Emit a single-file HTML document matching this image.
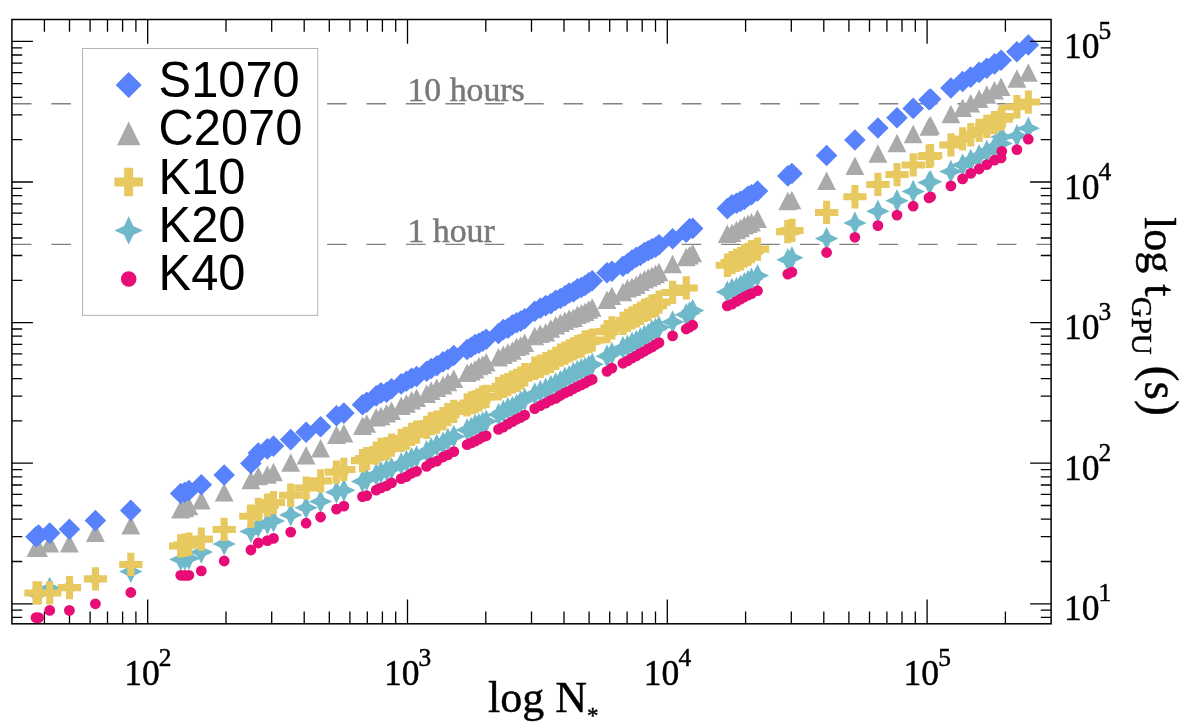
<!DOCTYPE html>
<html><head><meta charset="utf-8"><title>GPU timing</title>
<style>html,body{margin:0;padding:0;background:#fff}svg{display:block;will-change:transform}text{font-family:'Liberation Serif',serif;fill:#000;stroke:#000;stroke-width:.45px;stroke-linejoin:round}.s{font-family:'Liberation Sans',sans-serif;stroke:none}</style></head>
<body>
<svg width="1181" height="726" viewBox="0 0 1181 726">
<rect width="1181" height="726" fill="#fff"/>
<path d="M44.4 19.5v12.2 M44.4 623.8v-12.2 M69.5 19.5v12.2 M69.5 623.8v-12.2 M90.1 19.5v12.2 M90.1 623.8v-12.2 M107.5 19.5v12.2 M107.5 623.8v-12.2 M122.6 19.5v12.2 M122.6 623.8v-12.2 M135.9 19.5v12.2 M135.9 623.8v-12.2 M226 19.5v12.2 M226 623.8v-12.2 M271.7 19.5v12.2 M271.7 623.8v-12.2 M304.2 19.5v12.2 M304.2 623.8v-12.2 M329.3 19.5v12.2 M329.3 623.8v-12.2 M349.9 19.5v12.2 M349.9 623.8v-12.2 M367.3 19.5v12.2 M367.3 623.8v-12.2 M382.4 19.5v12.2 M382.4 623.8v-12.2 M395.7 19.5v12.2 M395.7 623.8v-12.2 M485.8 19.5v12.2 M485.8 623.8v-12.2 M531.5 19.5v12.2 M531.5 623.8v-12.2 M564 19.5v12.2 M564 623.8v-12.2 M589.1 19.5v12.2 M589.1 623.8v-12.2 M609.7 19.5v12.2 M609.7 623.8v-12.2 M627.1 19.5v12.2 M627.1 623.8v-12.2 M642.2 19.5v12.2 M642.2 623.8v-12.2 M655.5 19.5v12.2 M655.5 623.8v-12.2 M745.6 19.5v12.2 M745.6 623.8v-12.2 M791.3 19.5v12.2 M791.3 623.8v-12.2 M823.8 19.5v12.2 M823.8 623.8v-12.2 M848.9 19.5v12.2 M848.9 623.8v-12.2 M869.5 19.5v12.2 M869.5 623.8v-12.2 M886.9 19.5v12.2 M886.9 623.8v-12.2 M902 19.5v12.2 M902 623.8v-12.2 M915.3 19.5v12.2 M915.3 623.8v-12.2 M1005.4 19.5v12.2 M1005.4 623.8v-12.2 M11.9 617.4h10.3 M11.9 610.2h10.3 M11.9 561.5h10.3 M11.9 536.7h10.3 M11.9 519.2h10.3 M11.9 505.5h10.3 M11.9 494.4h10.3 M11.9 485h10.3 M11.9 476.8h10.3 M11.9 469.6h10.3 M11.9 420.9h10.3 M11.9 396.1h10.3 M11.9 378.6h10.3 M11.9 364.9h10.3 M11.9 353.8h10.3 M11.9 344.4h10.3 M11.9 336.2h10.3 M11.9 329h10.3 M11.9 280.3h10.3 M11.9 255.5h10.3 M11.9 238h10.3 M11.9 224.3h10.3 M11.9 213.2h10.3 M11.9 203.8h10.3 M11.9 195.6h10.3 M11.9 188.4h10.3 M11.9 139.7h10.3 M11.9 114.9h10.3 M11.9 97.4h10.3 M11.9 83.7h10.3 M11.9 72.6h10.3 M11.9 63.2h10.3 M11.9 55h10.3 M11.9 47.8h10.3 M147.7 19.5v24.2 M147.7 623.8v-24.2 M407.5 19.5v24.2 M407.5 623.8v-24.2 M667.3 19.5v24.2 M667.3 623.8v-24.2 M927.1 19.5v24.2 M927.1 623.8v-24.2 M11.9 603.8h21 M11.9 463.2h21 M11.9 322.6h21 M11.9 182h21 M11.9 41.4h21" stroke="#000" stroke-width="1.3" fill="none"/>
<path d="M11.9 103.8H1051.1" stroke="#828282" stroke-width="1.4" stroke-dasharray="19.6 19.8" fill="none"/>
<path d="M11.9 244.4H1051.1" stroke="#828282" stroke-width="1.4" stroke-dasharray="19.6 19.8" fill="none"/>
<text x="407.4" y="100.9" font-size="33.8" style="fill:#787878;stroke:#787878;stroke-width:.5px">10 hours</text>
<text x="407.4" y="241.5" font-size="33.8" style="fill:#787878;stroke:#787878;stroke-width:.5px">1 hour</text>
<path d="M36 581.9l3.8 7.9 7.9 3.8 -7.9 3.8 -3.8 7.9 -3.8 -7.9 -7.9 -3.8 7.9 -3.8zM38.6 581.9l3.8 7.9 7.9 3.8 -7.9 3.8 -3.8 7.9 -3.8 -7.9 -7.9 -3.8 7.9 -3.8zM49.7 576.7l3.8 7.9 7.9 3.8 -7.9 3.8 -3.8 7.9 -3.8 -7.9 -7.9 -3.8 7.9 -3.8zM69.4 575.6l3.8 7.9 7.9 3.8 -7.9 3.8 -3.8 7.9 -3.8 -7.9 -7.9 -3.8 7.9 -3.8zM95.4 567.3l3.8 7.9 7.9 3.8 -7.9 3.8 -3.8 7.9 -3.8 -7.9 -7.9 -3.8 7.9 -3.8zM130.8 559.9l3.8 7.9 7.9 3.8 -7.9 3.8 -3.8 7.9 -3.8 -7.9 -7.9 -3.8 7.9 -3.8zM180.7 547.8l3.8 7.9 7.9 3.8 -7.9 3.8 -3.8 7.9 -3.8 -7.9 -7.9 -3.8 7.9 -3.8zM184.8 547.3l3.8 7.9 7.9 3.8 -7.9 3.8 -3.8 7.9 -3.8 -7.9 -7.9 -3.8 7.9 -3.8zM188.9 546.5l3.8 7.9 7.9 3.8 -7.9 3.8 -3.8 7.9 -3.8 -7.9 -7.9 -3.8 7.9 -3.8zM201.3 540.4l3.8 7.9 7.9 3.8 -7.9 3.8 -3.8 7.9 -3.8 -7.9 -7.9 -3.8 7.9 -3.8zM224.2 532.2l3.8 7.9 7.9 3.8 -7.9 3.8 -3.8 7.9 -3.8 -7.9 -7.9 -3.8 7.9 -3.8zM250.9 519.8l3.8 7.9 7.9 3.8 -7.9 3.8 -3.8 7.9 -3.8 -7.9 -7.9 -3.8 7.9 -3.8zM258.3 514.3l3.8 7.9 7.9 3.8 -7.9 3.8 -3.8 7.9 -3.8 -7.9 -7.9 -3.8 7.9 -3.8zM267.4 511.5l3.8 7.9 7.9 3.8 -7.9 3.8 -3.8 7.9 -3.8 -7.9 -7.9 -3.8 7.9 -3.8zM273.5 509.3l3.8 7.9 7.9 3.8 -7.9 3.8 -3.8 7.9 -3.8 -7.9 -7.9 -3.8 7.9 -3.8zM290.7 503.2l3.8 7.9 7.9 3.8 -7.9 3.8 -3.8 7.9 -3.8 -7.9 -7.9 -3.8 7.9 -3.8zM306.1 496l3.8 7.9 7.9 3.8 -7.9 3.8 -3.8 7.9 -3.8 -7.9 -7.9 -3.8 7.9 -3.8zM320.6 489.8l3.8 7.9 7.9 3.8 -7.9 3.8 -3.8 7.9 -3.8 -7.9 -7.9 -3.8 7.9 -3.8zM336.5 480.5l3.8 7.9 7.9 3.8 -7.9 3.8 -3.8 7.9 -3.8 -7.9 -7.9 -3.8 7.9 -3.8zM343.9 478.5l3.8 7.9 7.9 3.8 -7.9 3.8 -3.8 7.9 -3.8 -7.9 -7.9 -3.8 7.9 -3.8zM362.5 469.7l3.8 7.9 7.9 3.8 -7.9 3.8 -3.8 7.9 -3.8 -7.9 -7.9 -3.8 7.9 -3.8zM366.7 467.8l3.8 7.9 7.9 3.8 -7.9 3.8 -3.8 7.9 -3.8 -7.9 -7.9 -3.8 7.9 -3.8zM376.2 462.9l3.8 7.9 7.9 3.8 -7.9 3.8 -3.8 7.9 -3.8 -7.9 -7.9 -3.8 7.9 -3.8zM381 460.7l3.8 7.9 7.9 3.8 -7.9 3.8 -3.8 7.9 -3.8 -7.9 -7.9 -3.8 7.9 -3.8zM386.6 458.4l3.8 7.9 7.9 3.8 -7.9 3.8 -3.8 7.9 -3.8 -7.9 -7.9 -3.8 7.9 -3.8zM391.5 456.9l3.8 7.9 7.9 3.8 -7.9 3.8 -3.8 7.9 -3.8 -7.9 -7.9 -3.8 7.9 -3.8zM401.2 452.1l3.8 7.9 7.9 3.8 -7.9 3.8 -3.8 7.9 -3.8 -7.9 -7.9 -3.8 7.9 -3.8zM406.4 449.5l3.8 7.9 7.9 3.8 -7.9 3.8 -3.8 7.9 -3.8 -7.9 -7.9 -3.8 7.9 -3.8zM411.6 447l3.8 7.9 7.9 3.8 -7.9 3.8 -3.8 7.9 -3.8 -7.9 -7.9 -3.8 7.9 -3.8zM416.6 445.2l3.8 7.9 7.9 3.8 -7.9 3.8 -3.8 7.9 -3.8 -7.9 -7.9 -3.8 7.9 -3.8zM426.6 440.1l3.8 7.9 7.9 3.8 -7.9 3.8 -3.8 7.9 -3.8 -7.9 -7.9 -3.8 7.9 -3.8zM431.2 437.2l3.8 7.9 7.9 3.8 -7.9 3.8 -3.8 7.9 -3.8 -7.9 -7.9 -3.8 7.9 -3.8zM436.8 433.5l3.8 7.9 7.9 3.8 -7.9 3.8 -3.8 7.9 -3.8 -7.9 -7.9 -3.8 7.9 -3.8zM443 431.4l3.8 7.9 7.9 3.8 -7.9 3.8 -3.8 7.9 -3.8 -7.9 -7.9 -3.8 7.9 -3.8zM447.9 427.8l3.8 7.9 7.9 3.8 -7.9 3.8 -3.8 7.9 -3.8 -7.9 -7.9 -3.8 7.9 -3.8zM453.8 424.7l3.8 7.9 7.9 3.8 -7.9 3.8 -3.8 7.9 -3.8 -7.9 -7.9 -3.8 7.9 -3.8zM467.1 418.2l3.8 7.9 7.9 3.8 -7.9 3.8 -3.8 7.9 -3.8 -7.9 -7.9 -3.8 7.9 -3.8zM471.2 416.8l3.8 7.9 7.9 3.8 -7.9 3.8 -3.8 7.9 -3.8 -7.9 -7.9 -3.8 7.9 -3.8zM475.1 413.6l3.8 7.9 7.9 3.8 -7.9 3.8 -3.8 7.9 -3.8 -7.9 -7.9 -3.8 7.9 -3.8zM478.9 412.9l3.8 7.9 7.9 3.8 -7.9 3.8 -3.8 7.9 -3.8 -7.9 -7.9 -3.8 7.9 -3.8zM482.6 411.3l3.8 7.9 7.9 3.8 -7.9 3.8 -3.8 7.9 -3.8 -7.9 -7.9 -3.8 7.9 -3.8zM486.2 409.5l3.8 7.9 7.9 3.8 -7.9 3.8 -3.8 7.9 -3.8 -7.9 -7.9 -3.8 7.9 -3.8zM498.5 402.9l3.8 7.9 7.9 3.8 -7.9 3.8 -3.8 7.9 -3.8 -7.9 -7.9 -3.8 7.9 -3.8zM503.3 399.7l3.8 7.9 7.9 3.8 -7.9 3.8 -3.8 7.9 -3.8 -7.9 -7.9 -3.8 7.9 -3.8zM507.9 397.1l3.8 7.9 7.9 3.8 -7.9 3.8 -3.8 7.9 -3.8 -7.9 -7.9 -3.8 7.9 -3.8zM512.4 395.8l3.8 7.9 7.9 3.8 -7.9 3.8 -3.8 7.9 -3.8 -7.9 -7.9 -3.8 7.9 -3.8zM516.6 393.7l3.8 7.9 7.9 3.8 -7.9 3.8 -3.8 7.9 -3.8 -7.9 -7.9 -3.8 7.9 -3.8zM520.7 390.2l3.8 7.9 7.9 3.8 -7.9 3.8 -3.8 7.9 -3.8 -7.9 -7.9 -3.8 7.9 -3.8zM524.7 387.8l3.8 7.9 7.9 3.8 -7.9 3.8 -3.8 7.9 -3.8 -7.9 -7.9 -3.8 7.9 -3.8zM534.7 382.2l3.8 7.9 7.9 3.8 -7.9 3.8 -3.8 7.9 -3.8 -7.9 -7.9 -3.8 7.9 -3.8zM540.3 379.8l3.8 7.9 7.9 3.8 -7.9 3.8 -3.8 7.9 -3.8 -7.9 -7.9 -3.8 7.9 -3.8zM545.7 377.5l3.8 7.9 7.9 3.8 -7.9 3.8 -3.8 7.9 -3.8 -7.9 -7.9 -3.8 7.9 -3.8zM550.8 374.8l3.8 7.9 7.9 3.8 -7.9 3.8 -3.8 7.9 -3.8 -7.9 -7.9 -3.8 7.9 -3.8zM555.7 372.2l3.8 7.9 7.9 3.8 -7.9 3.8 -3.8 7.9 -3.8 -7.9 -7.9 -3.8 7.9 -3.8zM560.4 369.8l3.8 7.9 7.9 3.8 -7.9 3.8 -3.8 7.9 -3.8 -7.9 -7.9 -3.8 7.9 -3.8zM564.9 366.6l3.8 7.9 7.9 3.8 -7.9 3.8 -3.8 7.9 -3.8 -7.9 -7.9 -3.8 7.9 -3.8zM569.2 364.9l3.8 7.9 7.9 3.8 -7.9 3.8 -3.8 7.9 -3.8 -7.9 -7.9 -3.8 7.9 -3.8zM573.4 361.8l3.8 7.9 7.9 3.8 -7.9 3.8 -3.8 7.9 -3.8 -7.9 -7.9 -3.8 7.9 -3.8zM577.4 359.8l3.8 7.9 7.9 3.8 -7.9 3.8 -3.8 7.9 -3.8 -7.9 -7.9 -3.8 7.9 -3.8zM581.3 358l3.8 7.9 7.9 3.8 -7.9 3.8 -3.8 7.9 -3.8 -7.9 -7.9 -3.8 7.9 -3.8zM585 356.7l3.8 7.9 7.9 3.8 -7.9 3.8 -3.8 7.9 -3.8 -7.9 -7.9 -3.8 7.9 -3.8zM588.7 354.8l3.8 7.9 7.9 3.8 -7.9 3.8 -3.8 7.9 -3.8 -7.9 -7.9 -3.8 7.9 -3.8zM592.2 352.5l3.8 7.9 7.9 3.8 -7.9 3.8 -3.8 7.9 -3.8 -7.9 -7.9 -3.8 7.9 -3.8zM607 344.5l3.8 7.9 7.9 3.8 -7.9 3.8 -3.8 7.9 -3.8 -7.9 -7.9 -3.8 7.9 -3.8zM611.9 341.8l3.8 7.9 7.9 3.8 -7.9 3.8 -3.8 7.9 -3.8 -7.9 -7.9 -3.8 7.9 -3.8zM622.9 336l3.8 7.9 7.9 3.8 -7.9 3.8 -3.8 7.9 -3.8 -7.9 -7.9 -3.8 7.9 -3.8zM627.5 334.6l3.8 7.9 7.9 3.8 -7.9 3.8 -3.8 7.9 -3.8 -7.9 -7.9 -3.8 7.9 -3.8zM632 331.5l3.8 7.9 7.9 3.8 -7.9 3.8 -3.8 7.9 -3.8 -7.9 -7.9 -3.8 7.9 -3.8zM636.3 329.8l3.8 7.9 7.9 3.8 -7.9 3.8 -3.8 7.9 -3.8 -7.9 -7.9 -3.8 7.9 -3.8zM640.4 327.2l3.8 7.9 7.9 3.8 -7.9 3.8 -3.8 7.9 -3.8 -7.9 -7.9 -3.8 7.9 -3.8zM644.4 324.6l3.8 7.9 7.9 3.8 -7.9 3.8 -3.8 7.9 -3.8 -7.9 -7.9 -3.8 7.9 -3.8zM648.2 323l3.8 7.9 7.9 3.8 -7.9 3.8 -3.8 7.9 -3.8 -7.9 -7.9 -3.8 7.9 -3.8zM651.9 319.3l3.8 7.9 7.9 3.8 -7.9 3.8 -3.8 7.9 -3.8 -7.9 -7.9 -3.8 7.9 -3.8zM655.5 317.8l3.8 7.9 7.9 3.8 -7.9 3.8 -3.8 7.9 -3.8 -7.9 -7.9 -3.8 7.9 -3.8zM659 315.6l3.8 7.9 7.9 3.8 -7.9 3.8 -3.8 7.9 -3.8 -7.9 -7.9 -3.8 7.9 -3.8zM672.6 310.2l3.8 7.9 7.9 3.8 -7.9 3.8 -3.8 7.9 -3.8 -7.9 -7.9 -3.8 7.9 -3.8zM686.2 303.1l3.8 7.9 7.9 3.8 -7.9 3.8 -3.8 7.9 -3.8 -7.9 -7.9 -3.8 7.9 -3.8zM689.5 301.3l3.8 7.9 7.9 3.8 -7.9 3.8 -3.8 7.9 -3.8 -7.9 -7.9 -3.8 7.9 -3.8zM692.7 298.7l3.8 7.9 7.9 3.8 -7.9 3.8 -3.8 7.9 -3.8 -7.9 -7.9 -3.8 7.9 -3.8zM727.3 280.4l3.8 7.9 7.9 3.8 -7.9 3.8 -3.8 7.9 -3.8 -7.9 -7.9 -3.8 7.9 -3.8zM732 277.7l3.8 7.9 7.9 3.8 -7.9 3.8 -3.8 7.9 -3.8 -7.9 -7.9 -3.8 7.9 -3.8zM736.5 276.8l3.8 7.9 7.9 3.8 -7.9 3.8 -3.8 7.9 -3.8 -7.9 -7.9 -3.8 7.9 -3.8zM740.5 274.6l3.8 7.9 7.9 3.8 -7.9 3.8 -3.8 7.9 -3.8 -7.9 -7.9 -3.8 7.9 -3.8zM744.3 271.9l3.8 7.9 7.9 3.8 -7.9 3.8 -3.8 7.9 -3.8 -7.9 -7.9 -3.8 7.9 -3.8zM748 269.7l3.8 7.9 7.9 3.8 -7.9 3.8 -3.8 7.9 -3.8 -7.9 -7.9 -3.8 7.9 -3.8zM751.5 267.5l3.8 7.9 7.9 3.8 -7.9 3.8 -3.8 7.9 -3.8 -7.9 -7.9 -3.8 7.9 -3.8zM757.5 263.9l3.8 7.9 7.9 3.8 -7.9 3.8 -3.8 7.9 -3.8 -7.9 -7.9 -3.8 7.9 -3.8zM787.8 248.1l3.8 7.9 7.9 3.8 -7.9 3.8 -3.8 7.9 -3.8 -7.9 -7.9 -3.8 7.9 -3.8zM791.9 246l3.8 7.9 7.9 3.8 -7.9 3.8 -3.8 7.9 -3.8 -7.9 -7.9 -3.8 7.9 -3.8zM826.6 226.9l3.8 7.9 7.9 3.8 -7.9 3.8 -3.8 7.9 -3.8 -7.9 -7.9 -3.8 7.9 -3.8zM854.9 211.3l3.8 7.9 7.9 3.8 -7.9 3.8 -3.8 7.9 -3.8 -7.9 -7.9 -3.8 7.9 -3.8zM877.9 199.5l3.8 7.9 7.9 3.8 -7.9 3.8 -3.8 7.9 -3.8 -7.9 -7.9 -3.8 7.9 -3.8zM897 189l3.8 7.9 7.9 3.8 -7.9 3.8 -3.8 7.9 -3.8 -7.9 -7.9 -3.8 7.9 -3.8zM913.2 179.8l3.8 7.9 7.9 3.8 -7.9 3.8 -3.8 7.9 -3.8 -7.9 -7.9 -3.8 7.9 -3.8zM929 170.9l3.8 7.9 7.9 3.8 -7.9 3.8 -3.8 7.9 -3.8 -7.9 -7.9 -3.8 7.9 -3.8zM930.6 170.1l3.8 7.9 7.9 3.8 -7.9 3.8 -3.8 7.9 -3.8 -7.9 -7.9 -3.8 7.9 -3.8zM950.9 159.8l3.8 7.9 7.9 3.8 -7.9 3.8 -3.8 7.9 -3.8 -7.9 -7.9 -3.8 7.9 -3.8zM962.6 153.3l3.8 7.9 7.9 3.8 -7.9 3.8 -3.8 7.9 -3.8 -7.9 -7.9 -3.8 7.9 -3.8zM970.7 148.7l3.8 7.9 7.9 3.8 -7.9 3.8 -3.8 7.9 -3.8 -7.9 -7.9 -3.8 7.9 -3.8zM979.1 144l3.8 7.9 7.9 3.8 -7.9 3.8 -3.8 7.9 -3.8 -7.9 -7.9 -3.8 7.9 -3.8zM986.8 139.7l3.8 7.9 7.9 3.8 -7.9 3.8 -3.8 7.9 -3.8 -7.9 -7.9 -3.8 7.9 -3.8zM994.5 135.4l3.8 7.9 7.9 3.8 -7.9 3.8 -3.8 7.9 -3.8 -7.9 -7.9 -3.8 7.9 -3.8zM1001.1 131.7l3.8 7.9 7.9 3.8 -7.9 3.8 -3.8 7.9 -3.8 -7.9 -7.9 -3.8 7.9 -3.8zM1016.9 124l3.8 7.9 7.9 3.8 -7.9 3.8 -3.8 7.9 -3.8 -7.9 -7.9 -3.8 7.9 -3.8zM1028.3 116.6l3.8 7.9 7.9 3.8 -7.9 3.8 -3.8 7.9 -3.8 -7.9 -7.9 -3.8 7.9 -3.8zM1001.8 125.3l3.8 7.9 7.9 3.8 -7.9 3.8 -3.8 7.9 -3.8 -7.9 -7.9 -3.8 7.9 -3.8z" fill="#70b9cb"/>
<path d="M30.6 617.6a5.4 5.4 0 1 0 10.8 0a5.4 5.4 0 1 0 -10.8 0zM33.2 617.6a5.4 5.4 0 1 0 10.8 0a5.4 5.4 0 1 0 -10.8 0zM44.3 610.4a5.4 5.4 0 1 0 10.8 0a5.4 5.4 0 1 0 -10.8 0zM64 610.4a5.4 5.4 0 1 0 10.8 0a5.4 5.4 0 1 0 -10.8 0zM90 603.8a5.4 5.4 0 1 0 10.8 0a5.4 5.4 0 1 0 -10.8 0zM125.4 592.5a5.4 5.4 0 1 0 10.8 0a5.4 5.4 0 1 0 -10.8 0zM175.3 575.3a5.4 5.4 0 1 0 10.8 0a5.4 5.4 0 1 0 -10.8 0zM179.4 575.3a5.4 5.4 0 1 0 10.8 0a5.4 5.4 0 1 0 -10.8 0zM183.5 575.3a5.4 5.4 0 1 0 10.8 0a5.4 5.4 0 1 0 -10.8 0zM195.9 570.9a5.4 5.4 0 1 0 10.8 0a5.4 5.4 0 1 0 -10.8 0zM218.8 561a5.4 5.4 0 1 0 10.8 0a5.4 5.4 0 1 0 -10.8 0zM245.5 550a5.4 5.4 0 1 0 10.8 0a5.4 5.4 0 1 0 -10.8 0zM252.9 543a5.4 5.4 0 1 0 10.8 0a5.4 5.4 0 1 0 -10.8 0zM262 540.6a5.4 5.4 0 1 0 10.8 0a5.4 5.4 0 1 0 -10.8 0zM268.1 538.4a5.4 5.4 0 1 0 10.8 0a5.4 5.4 0 1 0 -10.8 0zM285.3 532.1a5.4 5.4 0 1 0 10.8 0a5.4 5.4 0 1 0 -10.8 0zM300.7 523.2a5.4 5.4 0 1 0 10.8 0a5.4 5.4 0 1 0 -10.8 0zM315.2 517a5.4 5.4 0 1 0 10.8 0a5.4 5.4 0 1 0 -10.8 0zM331.1 509.2a5.4 5.4 0 1 0 10.8 0a5.4 5.4 0 1 0 -10.8 0zM338.5 506.1a5.4 5.4 0 1 0 10.8 0a5.4 5.4 0 1 0 -10.8 0zM357.1 496.6a5.4 5.4 0 1 0 10.8 0a5.4 5.4 0 1 0 -10.8 0zM361.3 495.6a5.4 5.4 0 1 0 10.8 0a5.4 5.4 0 1 0 -10.8 0zM370.8 490.1a5.4 5.4 0 1 0 10.8 0a5.4 5.4 0 1 0 -10.8 0zM375.6 487.9a5.4 5.4 0 1 0 10.8 0a5.4 5.4 0 1 0 -10.8 0zM381.2 485.8a5.4 5.4 0 1 0 10.8 0a5.4 5.4 0 1 0 -10.8 0zM386.1 482.9a5.4 5.4 0 1 0 10.8 0a5.4 5.4 0 1 0 -10.8 0zM395.8 478.7a5.4 5.4 0 1 0 10.8 0a5.4 5.4 0 1 0 -10.8 0zM401 476.6a5.4 5.4 0 1 0 10.8 0a5.4 5.4 0 1 0 -10.8 0zM406.2 473.3a5.4 5.4 0 1 0 10.8 0a5.4 5.4 0 1 0 -10.8 0zM411.2 471.3a5.4 5.4 0 1 0 10.8 0a5.4 5.4 0 1 0 -10.8 0zM421.2 466.4a5.4 5.4 0 1 0 10.8 0a5.4 5.4 0 1 0 -10.8 0zM425.8 463a5.4 5.4 0 1 0 10.8 0a5.4 5.4 0 1 0 -10.8 0zM431.4 461.2a5.4 5.4 0 1 0 10.8 0a5.4 5.4 0 1 0 -10.8 0zM437.6 457a5.4 5.4 0 1 0 10.8 0a5.4 5.4 0 1 0 -10.8 0zM442.5 454.9a5.4 5.4 0 1 0 10.8 0a5.4 5.4 0 1 0 -10.8 0zM448.4 451.6a5.4 5.4 0 1 0 10.8 0a5.4 5.4 0 1 0 -10.8 0zM461.7 444.7a5.4 5.4 0 1 0 10.8 0a5.4 5.4 0 1 0 -10.8 0zM465.8 442.9a5.4 5.4 0 1 0 10.8 0a5.4 5.4 0 1 0 -10.8 0zM469.7 441.2a5.4 5.4 0 1 0 10.8 0a5.4 5.4 0 1 0 -10.8 0zM473.5 439.1a5.4 5.4 0 1 0 10.8 0a5.4 5.4 0 1 0 -10.8 0zM477.2 437a5.4 5.4 0 1 0 10.8 0a5.4 5.4 0 1 0 -10.8 0zM480.8 435.8a5.4 5.4 0 1 0 10.8 0a5.4 5.4 0 1 0 -10.8 0zM493.1 429.4a5.4 5.4 0 1 0 10.8 0a5.4 5.4 0 1 0 -10.8 0zM497.9 427.1a5.4 5.4 0 1 0 10.8 0a5.4 5.4 0 1 0 -10.8 0zM502.5 424.1a5.4 5.4 0 1 0 10.8 0a5.4 5.4 0 1 0 -10.8 0zM507 421.6a5.4 5.4 0 1 0 10.8 0a5.4 5.4 0 1 0 -10.8 0zM511.2 419.3a5.4 5.4 0 1 0 10.8 0a5.4 5.4 0 1 0 -10.8 0zM515.3 417.5a5.4 5.4 0 1 0 10.8 0a5.4 5.4 0 1 0 -10.8 0zM519.3 415.2a5.4 5.4 0 1 0 10.8 0a5.4 5.4 0 1 0 -10.8 0zM529.3 408.7a5.4 5.4 0 1 0 10.8 0a5.4 5.4 0 1 0 -10.8 0zM534.9 405.7a5.4 5.4 0 1 0 10.8 0a5.4 5.4 0 1 0 -10.8 0zM540.3 403.2a5.4 5.4 0 1 0 10.8 0a5.4 5.4 0 1 0 -10.8 0zM545.4 400.3a5.4 5.4 0 1 0 10.8 0a5.4 5.4 0 1 0 -10.8 0zM550.3 398.4a5.4 5.4 0 1 0 10.8 0a5.4 5.4 0 1 0 -10.8 0zM555 395.5a5.4 5.4 0 1 0 10.8 0a5.4 5.4 0 1 0 -10.8 0zM559.5 393a5.4 5.4 0 1 0 10.8 0a5.4 5.4 0 1 0 -10.8 0zM563.8 391.1a5.4 5.4 0 1 0 10.8 0a5.4 5.4 0 1 0 -10.8 0zM568 388.8a5.4 5.4 0 1 0 10.8 0a5.4 5.4 0 1 0 -10.8 0zM572 386.6a5.4 5.4 0 1 0 10.8 0a5.4 5.4 0 1 0 -10.8 0zM575.9 384.9a5.4 5.4 0 1 0 10.8 0a5.4 5.4 0 1 0 -10.8 0zM579.6 383.1a5.4 5.4 0 1 0 10.8 0a5.4 5.4 0 1 0 -10.8 0zM583.3 380.9a5.4 5.4 0 1 0 10.8 0a5.4 5.4 0 1 0 -10.8 0zM586.8 379.5a5.4 5.4 0 1 0 10.8 0a5.4 5.4 0 1 0 -10.8 0zM601.6 371.3a5.4 5.4 0 1 0 10.8 0a5.4 5.4 0 1 0 -10.8 0zM606.5 368.1a5.4 5.4 0 1 0 10.8 0a5.4 5.4 0 1 0 -10.8 0zM617.5 363.3a5.4 5.4 0 1 0 10.8 0a5.4 5.4 0 1 0 -10.8 0zM622.1 360.8a5.4 5.4 0 1 0 10.8 0a5.4 5.4 0 1 0 -10.8 0zM626.6 358.2a5.4 5.4 0 1 0 10.8 0a5.4 5.4 0 1 0 -10.8 0zM630.9 355.9a5.4 5.4 0 1 0 10.8 0a5.4 5.4 0 1 0 -10.8 0zM635 353.4a5.4 5.4 0 1 0 10.8 0a5.4 5.4 0 1 0 -10.8 0zM639 351.3a5.4 5.4 0 1 0 10.8 0a5.4 5.4 0 1 0 -10.8 0zM642.8 349a5.4 5.4 0 1 0 10.8 0a5.4 5.4 0 1 0 -10.8 0zM646.5 347.1a5.4 5.4 0 1 0 10.8 0a5.4 5.4 0 1 0 -10.8 0zM650.1 344.6a5.4 5.4 0 1 0 10.8 0a5.4 5.4 0 1 0 -10.8 0zM653.6 342.6a5.4 5.4 0 1 0 10.8 0a5.4 5.4 0 1 0 -10.8 0zM667.2 335.9a5.4 5.4 0 1 0 10.8 0a5.4 5.4 0 1 0 -10.8 0zM680.8 329a5.4 5.4 0 1 0 10.8 0a5.4 5.4 0 1 0 -10.8 0zM684.1 327.3a5.4 5.4 0 1 0 10.8 0a5.4 5.4 0 1 0 -10.8 0zM687.3 325.2a5.4 5.4 0 1 0 10.8 0a5.4 5.4 0 1 0 -10.8 0zM721.9 305.9a5.4 5.4 0 1 0 10.8 0a5.4 5.4 0 1 0 -10.8 0zM726.6 304.1a5.4 5.4 0 1 0 10.8 0a5.4 5.4 0 1 0 -10.8 0zM731.1 301.3a5.4 5.4 0 1 0 10.8 0a5.4 5.4 0 1 0 -10.8 0zM735.1 299.2a5.4 5.4 0 1 0 10.8 0a5.4 5.4 0 1 0 -10.8 0zM738.9 297a5.4 5.4 0 1 0 10.8 0a5.4 5.4 0 1 0 -10.8 0zM742.6 295.2a5.4 5.4 0 1 0 10.8 0a5.4 5.4 0 1 0 -10.8 0zM746.1 293.6a5.4 5.4 0 1 0 10.8 0a5.4 5.4 0 1 0 -10.8 0zM752.1 290.7a5.4 5.4 0 1 0 10.8 0a5.4 5.4 0 1 0 -10.8 0zM782.4 274.1a5.4 5.4 0 1 0 10.8 0a5.4 5.4 0 1 0 -10.8 0zM786.5 272.1a5.4 5.4 0 1 0 10.8 0a5.4 5.4 0 1 0 -10.8 0zM821.2 252.5a5.4 5.4 0 1 0 10.8 0a5.4 5.4 0 1 0 -10.8 0zM849.5 237.3a5.4 5.4 0 1 0 10.8 0a5.4 5.4 0 1 0 -10.8 0zM872.5 225.6a5.4 5.4 0 1 0 10.8 0a5.4 5.4 0 1 0 -10.8 0zM891.6 215.1a5.4 5.4 0 1 0 10.8 0a5.4 5.4 0 1 0 -10.8 0zM907.8 206.2a5.4 5.4 0 1 0 10.8 0a5.4 5.4 0 1 0 -10.8 0zM923.6 197.8a5.4 5.4 0 1 0 10.8 0a5.4 5.4 0 1 0 -10.8 0zM925.2 196.9a5.4 5.4 0 1 0 10.8 0a5.4 5.4 0 1 0 -10.8 0zM945.5 185.9a5.4 5.4 0 1 0 10.8 0a5.4 5.4 0 1 0 -10.8 0zM957.2 178.9a5.4 5.4 0 1 0 10.8 0a5.4 5.4 0 1 0 -10.8 0zM965.3 173.4a5.4 5.4 0 1 0 10.8 0a5.4 5.4 0 1 0 -10.8 0zM973.7 169a5.4 5.4 0 1 0 10.8 0a5.4 5.4 0 1 0 -10.8 0zM981.4 164.6a5.4 5.4 0 1 0 10.8 0a5.4 5.4 0 1 0 -10.8 0zM989.1 160.1a5.4 5.4 0 1 0 10.8 0a5.4 5.4 0 1 0 -10.8 0zM995.7 157.9a5.4 5.4 0 1 0 10.8 0a5.4 5.4 0 1 0 -10.8 0zM1011.5 149.6a5.4 5.4 0 1 0 10.8 0a5.4 5.4 0 1 0 -10.8 0zM1022.9 139.2a5.4 5.4 0 1 0 10.8 0a5.4 5.4 0 1 0 -10.8 0zM996.4 151.3a5.4 5.4 0 1 0 10.8 0a5.4 5.4 0 1 0 -10.8 0z" fill="#e80c76"/>
<path d="M32.5 581.3h7.1v8.1h8.1v7.1h-8.1v8.1h-7.1v-8.1h-8.1v-7.1h8.1zM35.1 581.3h7.1v8.1h8.1v7.1h-8.1v8.1h-7.1v-8.1h-8.1v-7.1h8.1zM46.2 581.3h7.1v8.1h8.1v7.1h-8.1v8.1h-7.1v-8.1h-8.1v-7.1h8.1zM65.9 576h7.1v8.1h8.1v7.1h-8.1v8.1h-7.1v-8.1h-8.1v-7.1h8.1zM91.9 567.2h7.1v8.1h8.1v7.1h-8.1v8.1h-7.1v-8.1h-8.1v-7.1h8.1zM127.3 552.8h7.1v8.1h8.1v7.1h-8.1v8.1h-7.1v-8.1h-8.1v-7.1h8.1zM177.1 534.3h7.1v8.1h8.1v7.1h-8.1v8.1h-7.1v-8.1h-8.1v-7.1h8.1zM181.2 533.5h7.1v8.1h8.1v7.1h-8.1v8.1h-7.1v-8.1h-8.1v-7.1h8.1zM185.3 532.5h7.1v8.1h8.1v7.1h-8.1v8.1h-7.1v-8.1h-8.1v-7.1h8.1zM197.8 527.5h7.1v8.1h8.1v7.1h-8.1v8.1h-7.1v-8.1h-8.1v-7.1h8.1zM220.6 517.8h7.1v8.1h8.1v7.1h-8.1v8.1h-7.1v-8.1h-8.1v-7.1h8.1zM247.3 504.6h7.1v8.1h8.1v7.1h-8.1v8.1h-7.1v-8.1h-8.1v-7.1h8.1zM254.8 497.7h7.1v8.1h8.1v7.1h-8.1v8.1h-7.1v-8.1h-8.1v-7.1h8.1zM263.8 493.6h7.1v8.1h8.1v7.1h-8.1v8.1h-7.1v-8.1h-8.1v-7.1h8.1zM269.9 490.9h7.1v8.1h8.1v7.1h-8.1v8.1h-7.1v-8.1h-8.1v-7.1h8.1zM287.1 483.6h7.1v8.1h8.1v7.1h-8.1v8.1h-7.1v-8.1h-8.1v-7.1h8.1zM302.6 476.4h7.1v8.1h8.1v7.1h-8.1v8.1h-7.1v-8.1h-8.1v-7.1h8.1zM317.1 469.2h7.1v8.1h8.1v7.1h-8.1v8.1h-7.1v-8.1h-8.1v-7.1h8.1zM332.9 460.5h7.1v8.1h8.1v7.1h-8.1v8.1h-7.1v-8.1h-8.1v-7.1h8.1zM340.3 457.8h7.1v8.1h8.1v7.1h-8.1v8.1h-7.1v-8.1h-8.1v-7.1h8.1zM358.9 449h7.1v8.1h8.1v7.1h-8.1v8.1h-7.1v-8.1h-8.1v-7.1h8.1zM363.1 447h7.1v8.1h8.1v7.1h-8.1v8.1h-7.1v-8.1h-8.1v-7.1h8.1zM372.6 441.5h7.1v8.1h8.1v7.1h-8.1v8.1h-7.1v-8.1h-8.1v-7.1h8.1zM377.4 437.8h7.1v8.1h8.1v7.1h-8.1v8.1h-7.1v-8.1h-8.1v-7.1h8.1zM383.1 437h7.1v8.1h8.1v7.1h-8.1v8.1h-7.1v-8.1h-8.1v-7.1h8.1zM387.9 433.5h7.1v8.1h8.1v7.1h-8.1v8.1h-7.1v-8.1h-8.1v-7.1h8.1zM397.6 428.8h7.1v8.1h8.1v7.1h-8.1v8.1h-7.1v-8.1h-8.1v-7.1h8.1zM402.8 426.7h7.1v8.1h8.1v7.1h-8.1v8.1h-7.1v-8.1h-8.1v-7.1h8.1zM408.1 422.7h7.1v8.1h8.1v7.1h-8.1v8.1h-7.1v-8.1h-8.1v-7.1h8.1zM413.1 420.5h7.1v8.1h8.1v7.1h-8.1v8.1h-7.1v-8.1h-8.1v-7.1h8.1zM423.1 415.7h7.1v8.1h8.1v7.1h-8.1v8.1h-7.1v-8.1h-8.1v-7.1h8.1zM427.6 411.9h7.1v8.1h8.1v7.1h-8.1v8.1h-7.1v-8.1h-8.1v-7.1h8.1zM433.2 410.4h7.1v8.1h8.1v7.1h-8.1v8.1h-7.1v-8.1h-8.1v-7.1h8.1zM439.4 407.1h7.1v8.1h8.1v7.1h-8.1v8.1h-7.1v-8.1h-8.1v-7.1h8.1zM444.3 403h7.1v8.1h8.1v7.1h-8.1v8.1h-7.1v-8.1h-8.1v-7.1h8.1zM450.2 399.8h7.1v8.1h8.1v7.1h-8.1v8.1h-7.1v-8.1h-8.1v-7.1h8.1zM463.6 393.3h7.1v8.1h8.1v7.1h-8.1v8.1h-7.1v-8.1h-8.1v-7.1h8.1zM467.6 391.3h7.1v8.1h8.1v7.1h-8.1v8.1h-7.1v-8.1h-8.1v-7.1h8.1zM471.6 390.3h7.1v8.1h8.1v7.1h-8.1v8.1h-7.1v-8.1h-8.1v-7.1h8.1zM475.3 388.2h7.1v8.1h8.1v7.1h-8.1v8.1h-7.1v-8.1h-8.1v-7.1h8.1zM479.1 385.6h7.1v8.1h8.1v7.1h-8.1v8.1h-7.1v-8.1h-8.1v-7.1h8.1zM482.6 384.7h7.1v8.1h8.1v7.1h-8.1v8.1h-7.1v-8.1h-8.1v-7.1h8.1zM494.9 377.1h7.1v8.1h8.1v7.1h-8.1v8.1h-7.1v-8.1h-8.1v-7.1h8.1zM499.8 374.6h7.1v8.1h8.1v7.1h-8.1v8.1h-7.1v-8.1h-8.1v-7.1h8.1zM504.3 372.9h7.1v8.1h8.1v7.1h-8.1v8.1h-7.1v-8.1h-8.1v-7.1h8.1zM508.8 370.4h7.1v8.1h8.1v7.1h-8.1v8.1h-7.1v-8.1h-8.1v-7.1h8.1zM513.1 368.8h7.1v8.1h8.1v7.1h-8.1v8.1h-7.1v-8.1h-8.1v-7.1h8.1zM517.2 366.5h7.1v8.1h8.1v7.1h-8.1v8.1h-7.1v-8.1h-8.1v-7.1h8.1zM521.2 363.1h7.1v8.1h8.1v7.1h-8.1v8.1h-7.1v-8.1h-8.1v-7.1h8.1zM531.2 356.6h7.1v8.1h8.1v7.1h-8.1v8.1h-7.1v-8.1h-8.1v-7.1h8.1zM536.8 354.6h7.1v8.1h8.1v7.1h-8.1v8.1h-7.1v-8.1h-8.1v-7.1h8.1zM542.2 352h7.1v8.1h8.1v7.1h-8.1v8.1h-7.1v-8.1h-8.1v-7.1h8.1zM547.2 349.8h7.1v8.1h8.1v7.1h-8.1v8.1h-7.1v-8.1h-8.1v-7.1h8.1zM552.2 346.8h7.1v8.1h8.1v7.1h-8.1v8.1h-7.1v-8.1h-8.1v-7.1h8.1zM556.9 343.5h7.1v8.1h8.1v7.1h-8.1v8.1h-7.1v-8.1h-8.1v-7.1h8.1zM561.4 341.6h7.1v8.1h8.1v7.1h-8.1v8.1h-7.1v-8.1h-8.1v-7.1h8.1zM565.7 339.3h7.1v8.1h8.1v7.1h-8.1v8.1h-7.1v-8.1h-8.1v-7.1h8.1zM569.9 337.2h7.1v8.1h8.1v7.1h-8.1v8.1h-7.1v-8.1h-8.1v-7.1h8.1zM573.9 335.1h7.1v8.1h8.1v7.1h-8.1v8.1h-7.1v-8.1h-8.1v-7.1h8.1zM577.8 334.1h7.1v8.1h8.1v7.1h-8.1v8.1h-7.1v-8.1h-8.1v-7.1h8.1zM581.5 330.6h7.1v8.1h8.1v7.1h-8.1v8.1h-7.1v-8.1h-8.1v-7.1h8.1zM585.2 329.9h7.1v8.1h8.1v7.1h-8.1v8.1h-7.1v-8.1h-8.1v-7.1h8.1zM588.7 328.5h7.1v8.1h8.1v7.1h-8.1v8.1h-7.1v-8.1h-8.1v-7.1h8.1zM603.5 320h7.1v8.1h8.1v7.1h-8.1v8.1h-7.1v-8.1h-8.1v-7.1h8.1zM608.4 316.3h7.1v8.1h8.1v7.1h-8.1v8.1h-7.1v-8.1h-8.1v-7.1h8.1zM619.4 311.8h7.1v8.1h8.1v7.1h-8.1v8.1h-7.1v-8.1h-8.1v-7.1h8.1zM624 308.8h7.1v8.1h8.1v7.1h-8.1v8.1h-7.1v-8.1h-8.1v-7.1h8.1zM628.5 306.3h7.1v8.1h8.1v7.1h-8.1v8.1h-7.1v-8.1h-8.1v-7.1h8.1zM632.8 304.1h7.1v8.1h8.1v7.1h-8.1v8.1h-7.1v-8.1h-8.1v-7.1h8.1zM636.9 301.6h7.1v8.1h8.1v7.1h-8.1v8.1h-7.1v-8.1h-8.1v-7.1h8.1zM640.9 298.8h7.1v8.1h8.1v7.1h-8.1v8.1h-7.1v-8.1h-8.1v-7.1h8.1zM644.7 297.6h7.1v8.1h8.1v7.1h-8.1v8.1h-7.1v-8.1h-8.1v-7.1h8.1zM648.4 294.6h7.1v8.1h8.1v7.1h-8.1v8.1h-7.1v-8.1h-8.1v-7.1h8.1zM652 294h7.1v8.1h8.1v7.1h-8.1v8.1h-7.1v-8.1h-8.1v-7.1h8.1zM655.5 290.5h7.1v8.1h8.1v7.1h-8.1v8.1h-7.1v-8.1h-8.1v-7.1h8.1zM669.1 280.8h7.1v8.1h8.1v7.1h-8.1v8.1h-7.1v-8.1h-8.1v-7.1h8.1zM682.7 276.3h7.1v8.1h8.1v7.1h-8.1v8.1h-7.1v-8.1h-8.1v-7.1h8.1zM723.8 253.6h7.1v8.1h8.1v7.1h-8.1v8.1h-7.1v-8.1h-8.1v-7.1h8.1zM728.5 251h7.1v8.1h8.1v7.1h-8.1v8.1h-7.1v-8.1h-8.1v-7.1h8.1zM733 248.7h7.1v8.1h8.1v7.1h-8.1v8.1h-7.1v-8.1h-8.1v-7.1h8.1zM737 247.1h7.1v8.1h8.1v7.1h-8.1v8.1h-7.1v-8.1h-8.1v-7.1h8.1zM740.8 244.1h7.1v8.1h8.1v7.1h-8.1v8.1h-7.1v-8.1h-8.1v-7.1h8.1zM744.5 242.8h7.1v8.1h8.1v7.1h-8.1v8.1h-7.1v-8.1h-8.1v-7.1h8.1zM748 239.9h7.1v8.1h8.1v7.1h-8.1v8.1h-7.1v-8.1h-8.1v-7.1h8.1zM754 237.5h7.1v8.1h8.1v7.1h-8.1v8.1h-7.1v-8.1h-8.1v-7.1h8.1zM784.2 220h7.1v8.1h8.1v7.1h-8.1v8.1h-7.1v-8.1h-8.1v-7.1h8.1zM788.4 218.8h7.1v8.1h8.1v7.1h-8.1v8.1h-7.1v-8.1h-8.1v-7.1h8.1zM823.1 200.8h7.1v8.1h8.1v7.1h-8.1v8.1h-7.1v-8.1h-8.1v-7.1h8.1zM851.4 185.1h7.1v8.1h8.1v7.1h-8.1v8.1h-7.1v-8.1h-8.1v-7.1h8.1zM874.4 172.8h7.1v8.1h8.1v7.1h-8.1v8.1h-7.1v-8.1h-8.1v-7.1h8.1zM893.5 162.9h7.1v8.1h8.1v7.1h-8.1v8.1h-7.1v-8.1h-8.1v-7.1h8.1zM909.7 153.3h7.1v8.1h8.1v7.1h-8.1v8.1h-7.1v-8.1h-8.1v-7.1h8.1zM925.5 144.7h7.1v8.1h8.1v7.1h-8.1v8.1h-7.1v-8.1h-8.1v-7.1h8.1zM927.1 143.9h7.1v8.1h8.1v7.1h-8.1v8.1h-7.1v-8.1h-8.1v-7.1h8.1zM947.4 133.3h7.1v8.1h8.1v7.1h-8.1v8.1h-7.1v-8.1h-8.1v-7.1h8.1zM959.1 127.3h7.1v8.1h8.1v7.1h-8.1v8.1h-7.1v-8.1h-8.1v-7.1h8.1zM967.2 123.1h7.1v8.1h8.1v7.1h-8.1v8.1h-7.1v-8.1h-8.1v-7.1h8.1zM975.6 118.8h7.1v8.1h8.1v7.1h-8.1v8.1h-7.1v-8.1h-8.1v-7.1h8.1zM983.2 114.8h7.1v8.1h8.1v7.1h-8.1v8.1h-7.1v-8.1h-8.1v-7.1h8.1zM991 110.9h7.1v8.1h8.1v7.1h-8.1v8.1h-7.1v-8.1h-8.1v-7.1h8.1zM997.6 107.5h7.1v8.1h8.1v7.1h-8.1v8.1h-7.1v-8.1h-8.1v-7.1h8.1zM1013.4 95.1h7.1v8.1h8.1v7.1h-8.1v8.1h-7.1v-8.1h-8.1v-7.1h8.1zM1024.8 90.4h7.1v8.1h8.1v7.1h-8.1v8.1h-7.1v-8.1h-8.1v-7.1h8.1zM998.5 104.9h7.1v8.1h8.1v7.1h-8.1v8.1h-7.1v-8.1h-8.1v-7.1h8.1z" fill="#e8c95f"/>
<path d="M36 538.5l9.4 18.5h-18.9zM38.6 538.5l9.4 18.5h-18.9zM49.7 534l9.4 18.5h-18.9zM69.4 534l9.4 18.5h-18.9zM95.4 523.5l9.4 18.5h-18.9zM130.8 516l9.4 18.5h-18.9zM180.7 499.9l9.4 18.5h-18.9zM184.8 498.8l9.4 18.5h-18.9zM188.9 496.8l9.4 18.5h-18.9zM201.3 491.1l9.4 18.5h-18.9zM224.2 483.1l9.4 18.5h-18.9zM250.9 470.8l9.4 18.5h-18.9zM258.3 466.8l9.4 18.5h-18.9zM267.4 465.2l9.4 18.5h-18.9zM273.5 462.8l9.4 18.5h-18.9zM290.7 453.2l9.4 18.5h-18.9zM306.1 445.9l9.4 18.5h-18.9zM320.6 438.9l9.4 18.5h-18.9zM336.5 425.4l9.4 18.5h-18.9zM343.9 424.1l9.4 18.5h-18.9zM362.5 416.5l9.4 18.5h-18.9zM366.7 414.2l9.4 18.5h-18.9zM376.2 407.9l9.4 18.5h-18.9zM381 406.8l9.4 18.5h-18.9zM386.6 404l9.4 18.5h-18.9zM391.5 401.6l9.4 18.5h-18.9zM401.2 396.6l9.4 18.5h-18.9zM406.4 394.3l9.4 18.5h-18.9zM411.6 390.9l9.4 18.5h-18.9zM416.6 388.4l9.4 18.5h-18.9zM426.6 384.5l9.4 18.5h-18.9zM431.2 381.4l9.4 18.5h-18.9zM436.8 378.6l9.4 18.5h-18.9zM443 375.9l9.4 18.5h-18.9zM447.9 372.7l9.4 18.5h-18.9zM453.8 369.4l9.4 18.5h-18.9zM467.1 363.6l9.4 18.5h-18.9zM471.2 361.9l9.4 18.5h-18.9zM475.1 359.9l9.4 18.5h-18.9zM478.9 356.8l9.4 18.5h-18.9zM482.6 355.5l9.4 18.5h-18.9zM486.2 353.1l9.4 18.5h-18.9zM498.5 348l9.4 18.5h-18.9zM503.3 345.5l9.4 18.5h-18.9zM507.9 343.3l9.4 18.5h-18.9zM512.4 341.2l9.4 18.5h-18.9zM516.6 337.5l9.4 18.5h-18.9zM520.7 336.2l9.4 18.5h-18.9zM524.7 333.4l9.4 18.5h-18.9zM534.7 326.8l9.4 18.5h-18.9zM540.3 324.6l9.4 18.5h-18.9zM545.7 322.9l9.4 18.5h-18.9zM550.8 319.3l9.4 18.5h-18.9zM555.7 316l9.4 18.5h-18.9zM560.4 313.6l9.4 18.5h-18.9zM564.9 311.6l9.4 18.5h-18.9zM569.2 309.3l9.4 18.5h-18.9zM573.4 308.5l9.4 18.5h-18.9zM577.4 305.6l9.4 18.5h-18.9zM581.3 304l9.4 18.5h-18.9zM585 302.6l9.4 18.5h-18.9zM588.7 300.2l9.4 18.5h-18.9zM592.2 298.3l9.4 18.5h-18.9zM607 290.4l9.4 18.5h-18.9zM611.9 286.5l9.4 18.5h-18.9zM622.9 282.7l9.4 18.5h-18.9zM627.5 279.1l9.4 18.5h-18.9zM632 277.5l9.4 18.5h-18.9zM636.3 275.4l9.4 18.5h-18.9zM640.4 272.6l9.4 18.5h-18.9zM644.4 269.9l9.4 18.5h-18.9zM648.2 268.3l9.4 18.5h-18.9zM651.9 266.4l9.4 18.5h-18.9zM655.5 264.7l9.4 18.5h-18.9zM659 262.8l9.4 18.5h-18.9zM672.6 254.8l9.4 18.5h-18.9zM686.2 247.7l9.4 18.5h-18.9zM689.5 245.9l9.4 18.5h-18.9zM692.7 243.8l9.4 18.5h-18.9zM727.3 224.5l9.4 18.5h-18.9zM732 223.4l9.4 18.5h-18.9zM736.5 220.7l9.4 18.5h-18.9zM740.5 218.7l9.4 18.5h-18.9zM744.3 216l9.4 18.5h-18.9zM748 214.5l9.4 18.5h-18.9zM751.5 212.9l9.4 18.5h-18.9zM757.5 209.4l9.4 18.5h-18.9zM787.8 191.8l9.4 18.5h-18.9zM791.9 190.8l9.4 18.5h-18.9zM826.6 171.6l9.4 18.5h-18.9zM854.9 156.4l9.4 18.5h-18.9zM877.9 144.2l9.4 18.5h-18.9zM897 133.7l9.4 18.5h-18.9zM913.2 124.8l9.4 18.5h-18.9zM929 117.2l9.4 18.5h-18.9zM930.6 116l9.4 18.5h-18.9zM950.9 104.8l9.4 18.5h-18.9zM962.6 98.4l9.4 18.5h-18.9zM970.7 94l9.4 18.5h-18.9zM979.1 89.4l9.4 18.5h-18.9zM986.8 85.2l9.4 18.5h-18.9zM994.5 81l9.4 18.5h-18.9zM1001.1 77.5l9.4 18.5h-18.9zM1016.9 69.2l9.4 18.5h-18.9zM1028.3 63.3l9.4 18.5h-18.9z" fill="#aaaaaa"/>
<path d="M36 525.9l10.8 10.8-10.8 10.8-10.8-10.8zM38.6 524.2l10.8 10.8-10.8 10.8-10.8-10.8zM49.7 522.3l10.8 10.8-10.8 10.8-10.8-10.8zM69.4 518.4l10.8 10.8-10.8 10.8-10.8-10.8zM95.4 509.8l10.8 10.8-10.8 10.8-10.8-10.8zM130.8 499.6l10.8 10.8-10.8 10.8-10.8-10.8zM180.7 482.7l10.8 10.8-10.8 10.8-10.8-10.8zM184.8 481.4l10.8 10.8-10.8 10.8-10.8-10.8zM188.9 479.7l10.8 10.8-10.8 10.8-10.8-10.8zM201.3 473.9l10.8 10.8-10.8 10.8-10.8-10.8zM224.2 464.2l10.8 10.8-10.8 10.8-10.8-10.8zM250.9 452.6l10.8 10.8-10.8 10.8-10.8-10.8zM258.3 442.2l10.8 10.8-10.8 10.8-10.8-10.8zM267.4 438.1l10.8 10.8-10.8 10.8-10.8-10.8zM273.5 435.3l10.8 10.8-10.8 10.8-10.8-10.8zM290.7 428.8l10.8 10.8-10.8 10.8-10.8-10.8zM306.1 421.5l10.8 10.8-10.8 10.8-10.8-10.8zM320.6 416l10.8 10.8-10.8 10.8-10.8-10.8zM336.5 405l10.8 10.8-10.8 10.8-10.8-10.8zM343.9 402.3l10.8 10.8-10.8 10.8-10.8-10.8zM362.5 393.9l10.8 10.8-10.8 10.8-10.8-10.8zM366.7 391.5l10.8 10.8-10.8 10.8-10.8-10.8zM376.2 385.1l10.8 10.8-10.8 10.8-10.8-10.8zM381 382.1l10.8 10.8-10.8 10.8-10.8-10.8zM386.6 381.5l10.8 10.8-10.8 10.8-10.8-10.8zM391.5 378l10.8 10.8-10.8 10.8-10.8-10.8zM401.2 373.1l10.8 10.8-10.8 10.8-10.8-10.8zM406.4 370.4l10.8 10.8-10.8 10.8-10.8-10.8zM411.6 367.5l10.8 10.8-10.8 10.8-10.8-10.8zM416.6 365.7l10.8 10.8-10.8 10.8-10.8-10.8zM426.6 360.4l10.8 10.8-10.8 10.8-10.8-10.8zM431.2 357.7l10.8 10.8-10.8 10.8-10.8-10.8zM436.8 354.9l10.8 10.8-10.8 10.8-10.8-10.8zM443 350.9l10.8 10.8-10.8 10.8-10.8-10.8zM447.9 348.7l10.8 10.8-10.8 10.8-10.8-10.8zM453.8 344.7l10.8 10.8-10.8 10.8-10.8-10.8zM467.1 338.7l10.8 10.8-10.8 10.8-10.8-10.8zM471.2 336.4l10.8 10.8-10.8 10.8-10.8-10.8zM475.1 333.7l10.8 10.8-10.8 10.8-10.8-10.8zM478.9 332.5l10.8 10.8-10.8 10.8-10.8-10.8zM482.6 330.5l10.8 10.8-10.8 10.8-10.8-10.8zM486.2 328.4l10.8 10.8-10.8 10.8-10.8-10.8zM498.5 322.7l10.8 10.8-10.8 10.8-10.8-10.8zM503.3 318.8l10.8 10.8-10.8 10.8-10.8-10.8zM507.9 317.5l10.8 10.8-10.8 10.8-10.8-10.8zM512.4 314l10.8 10.8-10.8 10.8-10.8-10.8zM516.6 311.9l10.8 10.8-10.8 10.8-10.8-10.8zM520.7 310.3l10.8 10.8-10.8 10.8-10.8-10.8zM524.7 308l10.8 10.8-10.8 10.8-10.8-10.8zM534.7 300.5l10.8 10.8-10.8 10.8-10.8-10.8zM540.3 297.5l10.8 10.8-10.8 10.8-10.8-10.8zM545.7 294.8l10.8 10.8-10.8 10.8-10.8-10.8zM550.8 293l10.8 10.8-10.8 10.8-10.8-10.8zM555.7 289.5l10.8 10.8-10.8 10.8-10.8-10.8zM560.4 287.7l10.8 10.8-10.8 10.8-10.8-10.8zM564.9 285.1l10.8 10.8-10.8 10.8-10.8-10.8zM569.2 282.2l10.8 10.8-10.8 10.8-10.8-10.8zM573.4 281.2l10.8 10.8-10.8 10.8-10.8-10.8zM577.4 278.1l10.8 10.8-10.8 10.8-10.8-10.8zM581.3 276.7l10.8 10.8-10.8 10.8-10.8-10.8zM585 274.7l10.8 10.8-10.8 10.8-10.8-10.8zM588.7 272l10.8 10.8-10.8 10.8-10.8-10.8zM592.2 270l10.8 10.8-10.8 10.8-10.8-10.8zM607 261.9l10.8 10.8-10.8 10.8-10.8-10.8zM611.9 260.5l10.8 10.8-10.8 10.8-10.8-10.8zM622.9 255.4l10.8 10.8-10.8 10.8-10.8-10.8zM627.5 252.8l10.8 10.8-10.8 10.8-10.8-10.8zM632 249.2l10.8 10.8-10.8 10.8-10.8-10.8zM636.3 246.5l10.8 10.8-10.8 10.8-10.8-10.8zM640.4 244.7l10.8 10.8-10.8 10.8-10.8-10.8zM644.4 241.7l10.8 10.8-10.8 10.8-10.8-10.8zM648.2 240l10.8 10.8-10.8 10.8-10.8-10.8zM651.9 238l10.8 10.8-10.8 10.8-10.8-10.8zM655.5 236.4l10.8 10.8-10.8 10.8-10.8-10.8zM659 234l10.8 10.8-10.8 10.8-10.8-10.8zM672.6 228l10.8 10.8-10.8 10.8-10.8-10.8zM686.2 221.4l10.8 10.8-10.8 10.8-10.8-10.8zM689.5 218l10.8 10.8-10.8 10.8-10.8-10.8zM692.7 217.6l10.8 10.8-10.8 10.8-10.8-10.8zM727.3 197.8l10.8 10.8-10.8 10.8-10.8-10.8zM732 193.9l10.8 10.8-10.8 10.8-10.8-10.8zM736.5 192.5l10.8 10.8-10.8 10.8-10.8-10.8zM740.5 190.5l10.8 10.8-10.8 10.8-10.8-10.8zM744.3 188.7l10.8 10.8-10.8 10.8-10.8-10.8zM748 185.5l10.8 10.8-10.8 10.8-10.8-10.8zM751.5 183.9l10.8 10.8-10.8 10.8-10.8-10.8zM757.5 180.2l10.8 10.8-10.8 10.8-10.8-10.8zM787.8 165.1l10.8 10.8-10.8 10.8-10.8-10.8zM791.9 162.7l10.8 10.8-10.8 10.8-10.8-10.8zM826.6 144.7l10.8 10.8-10.8 10.8-10.8-10.8zM854.9 129.2l10.8 10.8-10.8 10.8-10.8-10.8zM877.9 117.2l10.8 10.8-10.8 10.8-10.8-10.8zM897 107l10.8 10.8-10.8 10.8-10.8-10.8zM913.2 97.6l10.8 10.8-10.8 10.8-10.8-10.8zM929 89l10.8 10.8-10.8 10.8-10.8-10.8zM930.6 88.2l10.8 10.8-10.8 10.8-10.8-10.8zM950.9 77.2l10.8 10.8-10.8 10.8-10.8-10.8zM962.6 70.7l10.8 10.8-10.8 10.8-10.8-10.8zM970.7 66.3l10.8 10.8-10.8 10.8-10.8-10.8zM979.1 61.6l10.8 10.8-10.8 10.8-10.8-10.8zM986.8 57.4l10.8 10.8-10.8 10.8-10.8-10.8zM994.5 53.1l10.8 10.8-10.8 10.8-10.8-10.8zM1001.1 49.5l10.8 10.8-10.8 10.8-10.8-10.8zM1016.9 41l10.8 10.8-10.8 10.8-10.8-10.8zM1028.3 34.2l10.8 10.8-10.8 10.8-10.8-10.8z" fill="#5882fb"/>
<rect x="82.5" y="48.5" width="235.2" height="266.9" fill="#fff" stroke="#b4b4b4" stroke-width="1"/>
<path d="M128.7 71.9l13 13-13 13-13-13z" fill="#5882fb"/>
<path d="M128.7 121.6l11.8 23.6h-23.5z" fill="#aaaaaa"/>
<path d="M124.2 167.8h8.9v9.8h9.8v8.9h-9.8v9.8h-8.9v-9.8h-9.8v-8.9h9.8z" fill="#e8c95f"/>
<path d="M128.7 216.3l4.6 9.6 9.6 4.6 -9.6 4.6 -4.6 9.6 -4.6 -9.6 -9.6 -4.6 9.6 -4.6z" fill="#70b9cb"/>
<path d="M120.9 279a7.8 7.8 0 1 0 15.6 0a7.8 7.8 0 1 0 -15.6 0z" fill="#e80c76"/>
<text class="s" transform="translate(158.6 96.7) scale(1.027 1.045)" font-size="47.5">S1070</text>
<text class="s" transform="translate(158.6 145.2) scale(1.027 1.045)" font-size="47.5">C2070</text>
<text class="s" transform="translate(158.6 193.5) scale(1.027 1.045)" font-size="47.5">K10</text>
<text class="s" transform="translate(158.6 242) scale(1.027 1.045)" font-size="47.5">K20</text>
<text class="s" transform="translate(158.6 290.4) scale(1.027 1.045)" font-size="47.5">K40</text>
<path d="M1051.1 617.4h-10.3 M1051.1 610.2h-10.3 M1051.1 561.5h-10.3 M1051.1 536.7h-10.3 M1051.1 519.2h-10.3 M1051.1 505.5h-10.3 M1051.1 494.4h-10.3 M1051.1 485h-10.3 M1051.1 476.8h-10.3 M1051.1 469.6h-10.3 M1051.1 420.9h-10.3 M1051.1 396.1h-10.3 M1051.1 378.6h-10.3 M1051.1 364.9h-10.3 M1051.1 353.8h-10.3 M1051.1 344.4h-10.3 M1051.1 336.2h-10.3 M1051.1 329h-10.3 M1051.1 280.3h-10.3 M1051.1 255.5h-10.3 M1051.1 238h-10.3 M1051.1 224.3h-10.3 M1051.1 213.2h-10.3 M1051.1 203.8h-10.3 M1051.1 195.6h-10.3 M1051.1 188.4h-10.3 M1051.1 139.7h-10.3 M1051.1 114.9h-10.3 M1051.1 97.4h-10.3 M1051.1 83.7h-10.3 M1051.1 72.6h-10.3 M1051.1 63.2h-10.3 M1051.1 55h-10.3 M1051.1 47.8h-10.3 M1051.1 603.8h-21 M1051.1 463.2h-21 M1051.1 322.6h-21 M1051.1 182h-21 M1051.1 41.4h-21" stroke="#000" stroke-width="1.3" fill="none"/>
<rect x="11.9" y="19.5" width="1039.2" height="604.3" fill="none" stroke="#000" stroke-width="1.5"/>
<text x="124.2" y="684.8" font-size="35.5">10<tspan dx="-0.9" dy="-19" font-size="25.4">2</tspan></text>
<text x="384" y="684.8" font-size="35.5">10<tspan dx="-0.9" dy="-19" font-size="25.4">3</tspan></text>
<text x="643.8" y="684.8" font-size="35.5">10<tspan dx="-0.9" dy="-19" font-size="25.4">4</tspan></text>
<text x="903.6" y="684.8" font-size="35.5">10<tspan dx="-0.9" dy="-19" font-size="25.4">5</tspan></text>
<text x="1064" y="620.3" font-size="35.5">10<tspan dx="-0.9" dy="-19" font-size="25.4">1</tspan></text>
<text x="1064" y="479.7" font-size="35.5">10<tspan dx="-0.9" dy="-19" font-size="25.4">2</tspan></text>
<text x="1064" y="339.1" font-size="35.5">10<tspan dx="-0.9" dy="-19" font-size="25.4">3</tspan></text>
<text x="1064" y="198.5" font-size="35.5">10<tspan dx="-0.9" dy="-19" font-size="25.4">4</tspan></text>
<text x="1064" y="57.9" font-size="35.5">10<tspan dx="-0.9" dy="-19" font-size="25.4">5</tspan></text>
<text x="488" y="711.6" font-size="44">log N<tspan dy="11" dx="0" font-size="23">*</tspan></text>
<g transform="translate(1144.6 217) rotate(90)"><text x="0" y="0" font-size="44">log t<tspan dy="12.8" dx="0.3" font-size="29">GPU</tspan><tspan dy="-12.8" dx="11" font-size="47.5">(s)</tspan></text></g>
</svg>
</body></html>
